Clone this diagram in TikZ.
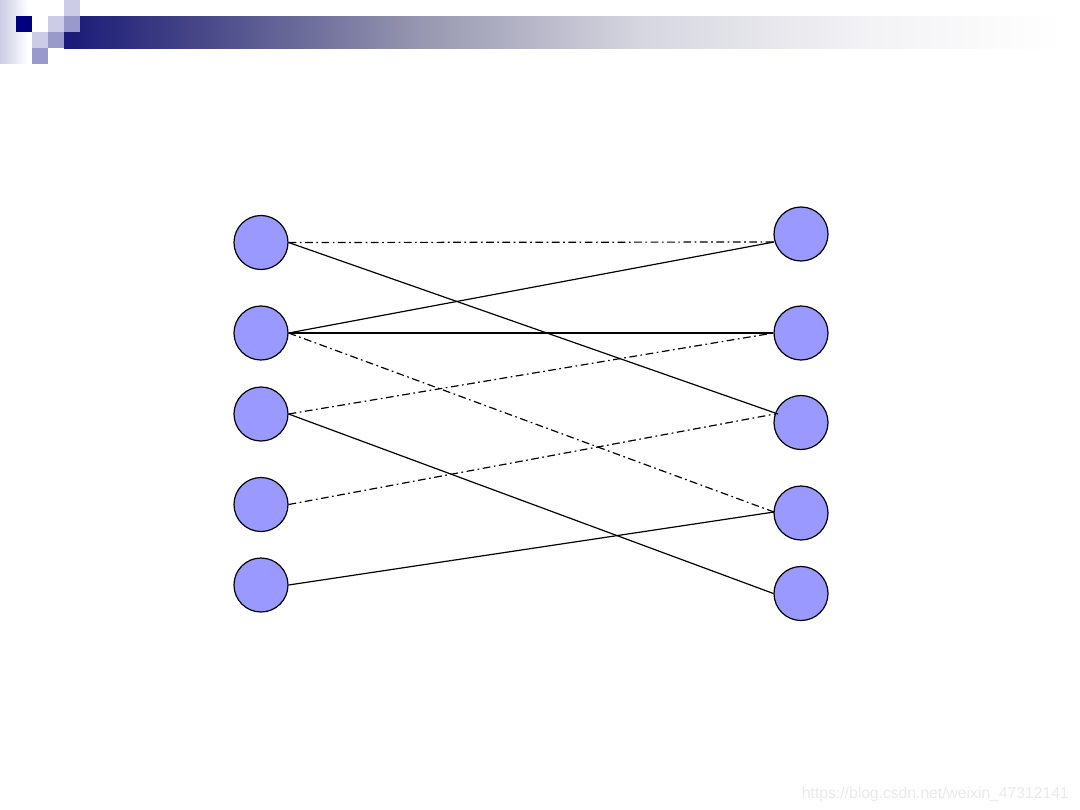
\documentclass[tikz,border=0pt]{standalone}
\usepackage{fontspec}
\newfontfamily\wmfont{Liberation Sans}
\definecolor{navysq}{RGB}{0,0,128}
\definecolor{lightsq}{RGB}{204,204,230}
\definecolor{midsq}{RGB}{153,153,204}
\definecolor{nodefill}{RGB}{153,153,255}
\definecolor{wmgray}{RGB}{234,234,234}
\pgfdeclarehorizontalshading{barshade}{100bp}{rgb(0bp)=(0.10,0.10,0.47); rgb(25bp)=(0.10,0.10,0.47); rgb(31.8bp)=(0.28,0.28,0.53); rgb(42.8bp)=(0.59,0.59,0.69); rgb(53.9bp)=(0.84,0.84,0.88); rgb(65bp)=(0.95,0.95,0.96); rgb(75bp)=(1,1,1); rgb(100bp)=(1,1,1)}
\pgfdeclarehorizontalshading{stripshade}{100bp}{rgb(0bp)=(0.80,0.80,0.90); rgb(25bp)=(0.80,0.80,0.90); rgb(75bp)=(1,1,1); rgb(100bp)=(1,1,1)}
\begin{document}
\begin{tikzpicture}[x=0.025cm,y=-0.025cm,
  vertex/.style={circle,draw=black,line width=0.85pt,fill=nodefill,minimum size=1.35cm,inner sep=0pt},
  link/.style={line width=0.85pt,black},
  dashdot/.style={line width=0.85pt,black,dash pattern=on 5.5pt off 2.5pt on 1.2pt off 2.5pt}]
\useasboundingbox (0,0) rectangle (1080,810);
\fill[white] (0,0) rectangle (1080,810);
% header decoration
\shade[shading=stripshade] (0,0) rectangle (28,63);
\shade[shading=barshade] (64,16) rectangle (1064,48);
\fill[navysq] (16,16) rectangle (32,32);
\fill[lightsq] (48,16) rectangle (64,32);
\fill[lightsq] (32,32) rectangle (48,48);
\fill[midsq] (48,32) rectangle (64,48);
\fill[lightsq] (64,0) rectangle (80,16);
\fill[midsq] (64,16) rectangle (80,32);
\fill[midsq] (32,48) rectangle (48,64);
% nodes
\node[vertex] (L1) at (261,242.5) {};
\node[vertex] (L2) at (261,333) {};
\node[vertex] (L3) at (261,414) {};
\node[vertex] (L4) at (261,504.5) {};
\node[vertex] (L5) at (261,585) {};
\node[vertex] (R1) at (801,234) {};
\node[vertex] (R2) at (801,333) {};
\node[vertex] (R3) at (801,422.5) {};
\node[vertex] (R4) at (801,513) {};
\node[vertex] (R5) at (801,593.5) {};
\coordinate (r1in) at (774,242);
\coordinate (r3in) at (778,414);
\coordinate (r3ind) at (775,414);
\coordinate (r4in) at (774,512);
% connectors
\draw[dashdot] (L1.east) -- (r1in);
\draw[link] (L1.east) -- (r3in);
\draw[link] (L2.east) -- (r1in);
\draw[link] (L2.east) -- (R2.west);
\draw[dashdot] (L2.east) -- (r4in);
\draw[dashdot] (L3.east) -- (R2.west);
\draw[link] (L3.east) -- (R5.west);
\draw[dashdot] (L4.east) -- (r3ind);
\draw[link] (L5.east) -- (r4in);
% watermark
\node[anchor=base east,text=wmgray,inner sep=0pt,font=\wmfont\fontsize{11.15pt}{13pt}\selectfont] (wm) at (1069,798) {https://blog.csdn.net/weixin\_47312141};
\end{tikzpicture}
\end{document}
